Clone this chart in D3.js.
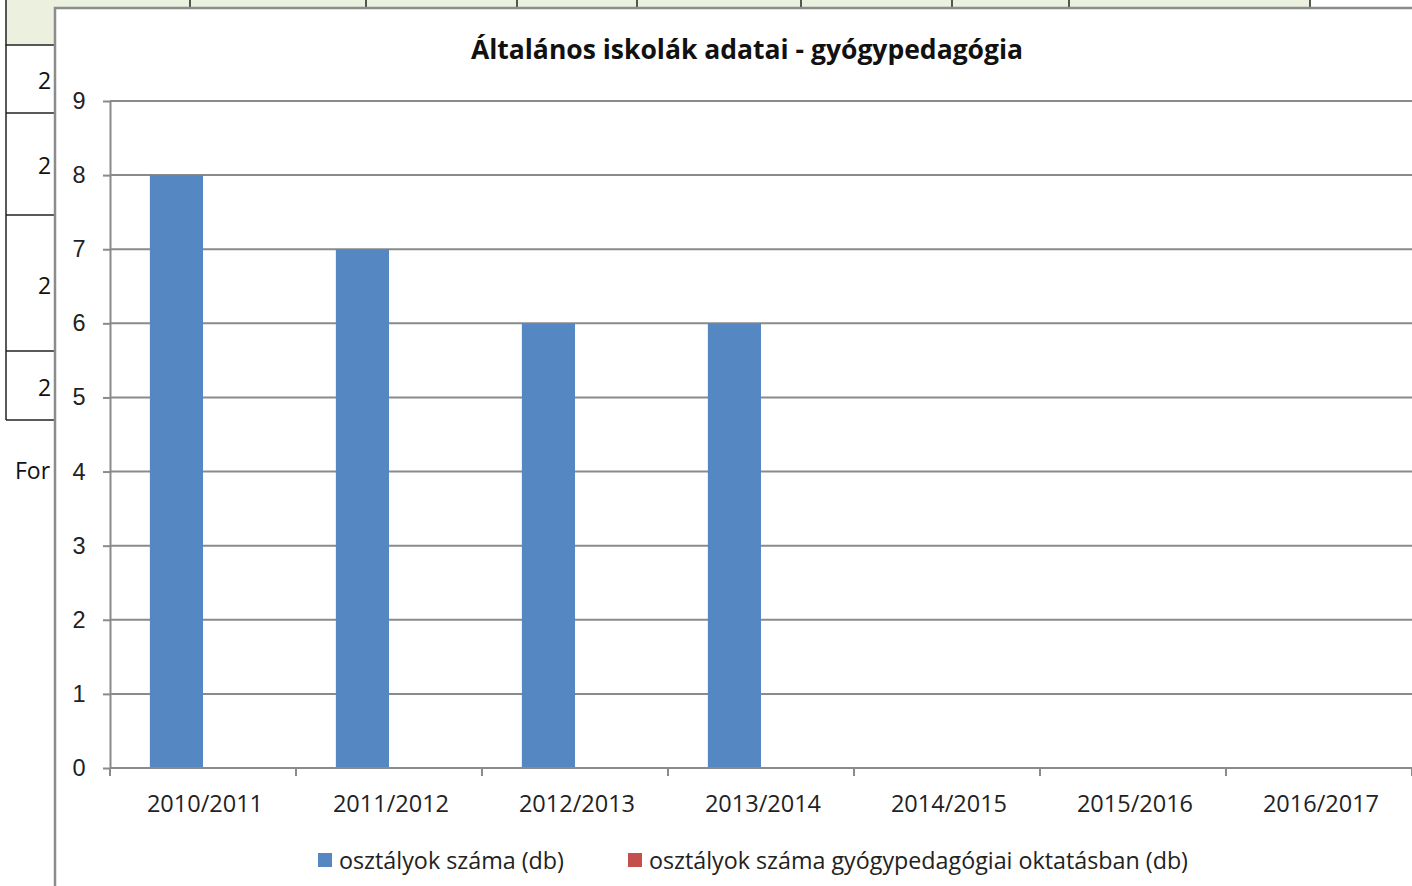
<!DOCTYPE html>
<meta charset="utf-8">
<style>
body { margin: 0; background: #fff; }
svg { display: block; font-family: "Open Sans", sans-serif; }
.grid line { stroke: #8a8a8a; stroke-width: 2; }
.axis path, .axis line { stroke: #8a8a8a; stroke-width: 2; }
.axis text { fill: #222; font-size: 23.5px; }
</style>
<body>
<svg id="chart"></svg>
<script src="https://d3js.org/d3.v7.min.js"></script>
<script>

var categories = ["2010/2011", "2011/2012", "2012/2013", "2013/2014", "2014/2015", "2015/2016", "2016/2017"];
var seriesNames = ["osztályok száma (db)", "osztályok száma gyógypedagógiai oktatásban (db)"];
var osztalyok = [8, 7, 6, 6, null, null, null];
var gyogyped = [0, 0, 0, 0, null, null, null];
var yTicks = [0, 1, 2, 3, 4, 5, 6, 7, 8, 9];
var colors = ["#5588c2", "#c4504d"];

var width = 1412, height = 886;

var svg = d3.select("#chart")
    .attr("width", width)
    .attr("height", height);

// spreadsheet behind the chart
var sheet = svg.append("g");
sheet.append("rect")
    .attr("x", 6).attr("y", -2).attr("width", 1304).attr("height", 47)
    .attr("fill", "#ebf1de").attr("stroke", "#222").attr("stroke-width", 1.5);
[190, 366, 517, 637, 801, 952, 1069].forEach(function(x) {
  sheet.append("line").attr("x1", x).attr("x2", x).attr("y1", 0).attr("y2", 45)
      .attr("stroke", "#222").attr("stroke-width", 1.5);
});
sheet.append("line").attr("x1", 6).attr("x2", 6).attr("y1", 45).attr("y2", 420)
    .attr("stroke", "#222").attr("stroke-width", 1.5);
[113, 215, 351, 420].forEach(function(y) {
  sheet.append("line").attr("x1", 6).attr("x2", 60).attr("y1", y).attr("y2", y)
      .attr("stroke", "#222").attr("stroke-width", 1.5);
});
[89, 174, 294, 396].forEach(function(y) {
  sheet.append("text").attr("x", 38).attr("y", y).attr("font-size", 23)
      .attr("fill", "#111").text("2");
});
sheet.append("text").attr("x", 15).attr("y", 479).attr("font-size", 23)
    .attr("fill", "#111").text("For");

// chart area
svg.append("rect")
    .attr("x", 55).attr("y", 8).attr("width", 1400).attr("height", 900)
    .attr("fill", "#fff").attr("stroke", "#8c8c8c").attr("stroke-width", 2.5);

svg.append("text")
    .attr("x", 747).attr("y", 59)
    .attr("text-anchor", "middle")
    .attr("font-size", 26.5).attr("font-weight", "bold").attr("fill", "#111")
    .text("Általános iskolák adatai - gyógypedagógia");

var x = d3.scaleBand().domain(categories).range([110, 1412]);
var xs = d3.scaleBand().domain(seriesNames).range([0, x.bandwidth()]).paddingOuter(0.75);
var y = d3.scaleLinear().domain([0, 9]).range([768, 101]);

svg.append("g").attr("class", "grid")
  .selectAll("line").data(yTicks.slice(1)).enter().append("line")
    .attr("x1", 110).attr("x2", 1412)
    .attr("y1", function(d) { return y(d); })
    .attr("y2", function(d) { return y(d); });

[osztalyok, gyogyped].forEach(function(vals, si) {
  svg.append("g").selectAll("rect")
    .data(categories.map(function(c, i) { return {c: c, v: vals[i]}; })
      .filter(function(d) { return d.v != null && d.v > 0; }))
    .enter().append("rect")
      .attr("x", function(d) { return x(d.c) + xs(seriesNames[si]); })
      .attr("width", xs.bandwidth())
      .attr("y", function(d) { return y(d.v); })
      .attr("height", function(d) { return y(0) - y(d.v); })
      .attr("fill", colors[si]);
});

svg.append("g").attr("class", "axis")
    .attr("transform", "translate(110,0)")
    .call(d3.axisLeft(y).tickValues(yTicks).tickSize(7).tickPadding(17).tickSizeOuter(0))
  .selectAll("text").attr("text-anchor", "middle").attr("dx", "-0.3em");

var xAxis = svg.append("g").attr("class", "axis")
    .attr("transform", "translate(0,768)");
xAxis.append("line").attr("x1", 110).attr("x2", 1412);
xAxis.selectAll(".tk").data(categories.concat(["end"])).enter().append("line")
    .attr("x1", function(d, i) { return 110 + i * x.step(); })
    .attr("x2", function(d, i) { return 110 + i * x.step(); })
    .attr("y1", 0).attr("y2", 8);
xAxis.selectAll("text").data(categories).enter().append("text")
    .attr("x", function(d) { return x(d) + x.bandwidth() / 2 + 2; })
    .attr("y", 44)
    .attr("text-anchor", "middle")
    .text(function(d) { return d; });

// legend
var legendX = [318, 628];
var legend = svg.append("g");
seriesNames.forEach(function(name, i) {
  legend.append("rect")
      .attr("x", legendX[i]).attr("y", 853).attr("width", 14).attr("height", 14)
      .attr("fill", colors[i]);
  legend.append("text")
      .attr("x", legendX[i] + 21).attr("y", 869)
      .attr("font-size", 23).attr("fill", "#222")
      .attr("textLength", i === 0 ? 225 : 539)
      .attr("lengthAdjust", "spacingAndGlyphs")
      .text(name);
});

</script>
